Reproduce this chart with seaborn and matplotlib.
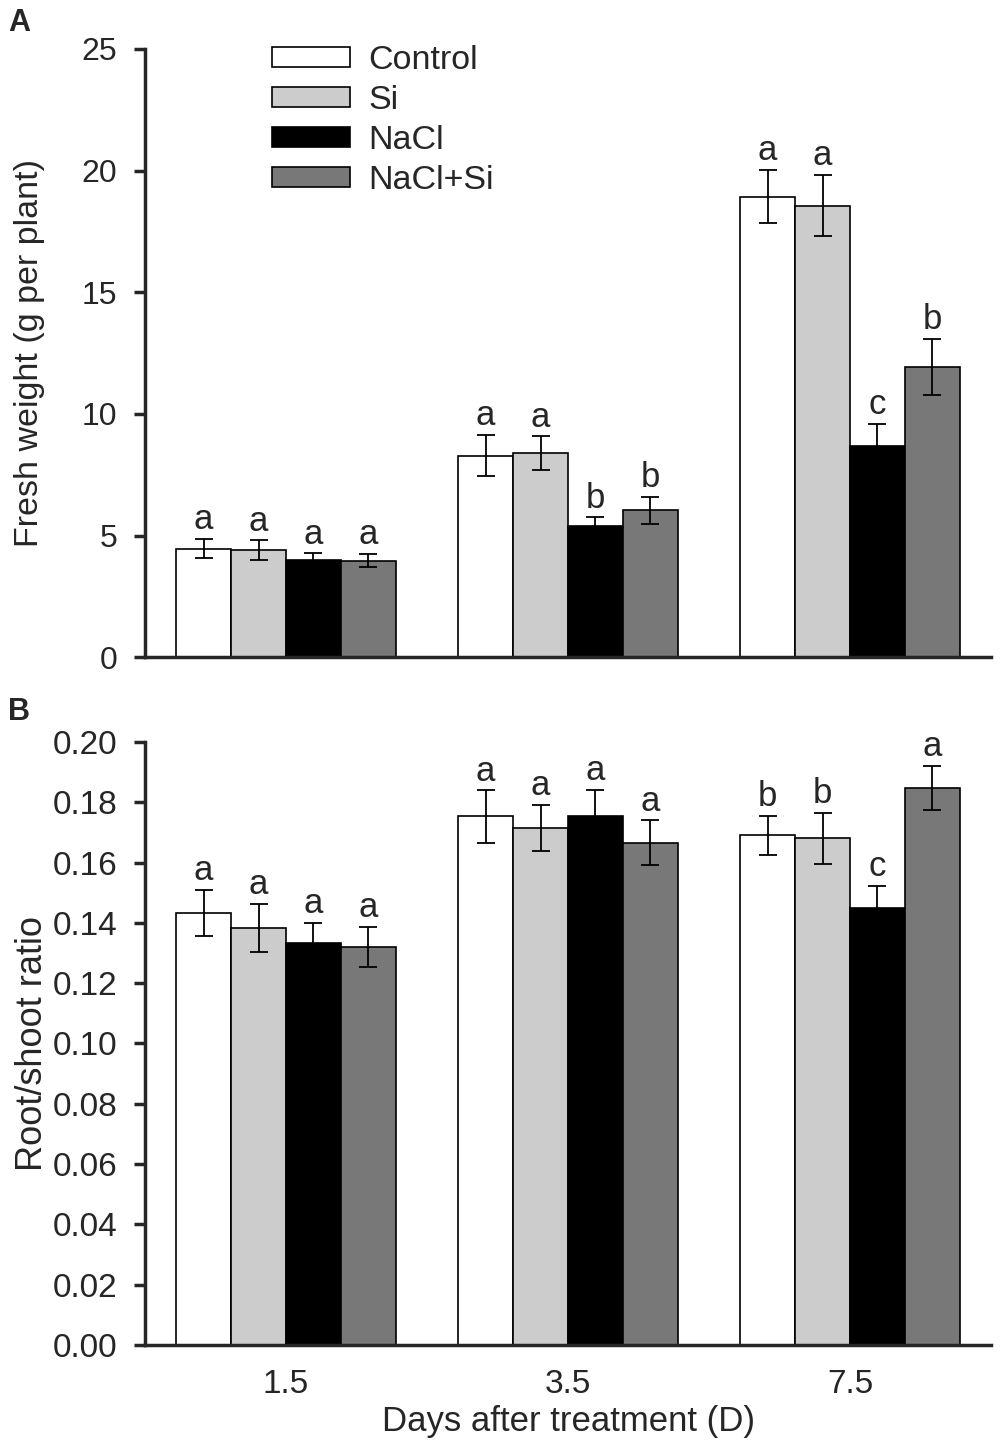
import numpy as np
import pandas as pd
import matplotlib
matplotlib.use("Agg")
import matplotlib.pyplot as plt
import seaborn as sns

sns.set_style("ticks")
plt.rcParams['font.family'] = ['Liberation Sans', 'DejaVu Sans']

# categories
days = ['1.5', '3.5', '7.5']
treatments = ['Control', 'Si', 'NaCl', 'NaCl+Si']
colors = ['#ffffff', '#cccccc', '#000000', '#787878']

# panel A - fresh weight (g per plant)
fw_control = [4.46, 8.29, 18.93]
fw_si = [4.41, 8.38, 18.56]
fw_nacl = [4.00, 5.41, 8.70]
fw_nacl_si = [3.97, 6.04, 11.93]
fw_err_control = [0.40, 0.86, 1.10]
fw_err_si = [0.40, 0.70, 1.26]
fw_err_nacl = [0.27, 0.34, 0.89]
fw_err_nacl_si = [0.28, 0.55, 1.16]
fw_let_control = ['a', 'a', 'a']
fw_let_si = ['a', 'a', 'a']
fw_let_nacl = ['a', 'b', 'c']
fw_let_nacl_si = ['a', 'b', 'b']

# panel B - root/shoot ratio
rs_control = [0.1433, 0.1753, 0.1690]
rs_si = [0.1383, 0.1715, 0.1681]
rs_nacl = [0.1335, 0.1753, 0.1451]
rs_nacl_si = [0.1321, 0.1666, 0.1848]
rs_err_control = [0.0077, 0.0087, 0.0066]
rs_err_si = [0.0080, 0.0077, 0.0084]
rs_err_nacl = [0.0066, 0.0088, 0.0072]
rs_err_nacl_si = [0.0067, 0.0074, 0.0072]
rs_let_control = ['a', 'a', 'b']
rs_let_si = ['a', 'a', 'b']
rs_let_nacl = ['a', 'a', 'c']
rs_let_nacl_si = ['a', 'a', 'a']


def make_df(means, errs, lets):
    rows = []
    for t, m, e, l in zip(treatments, means, errs, lets):
        for d, mv, ev, lv in zip(days, m, e, l):
            rows.append({'day': d, 'treatment': t, 'mean': mv, 'err': ev, 'letter': lv})
    return pd.DataFrame(rows)


fw = make_df([fw_control, fw_si, fw_nacl, fw_nacl_si],
             [fw_err_control, fw_err_si, fw_err_nacl, fw_err_nacl_si],
             [fw_let_control, fw_let_si, fw_let_nacl, fw_let_nacl_si])
rs = make_df([rs_control, rs_si, rs_nacl, rs_nacl_si],
             [rs_err_control, rs_err_si, rs_err_nacl, rs_err_nacl_si],
             [rs_let_control, rs_let_si, rs_let_nacl, rs_let_nacl_si])


def draw(ax, df, tick_size):
    sns.barplot(data=df, x='day', y='mean', hue='treatment', order=days,
                hue_order=treatments, palette=colors, saturation=1,
                edgecolor='black', linewidth=1.2, width=0.78,
                errorbar=None, ax=ax)
    for cont, t in zip(ax.containers, treatments):
        sub = df[df['treatment'] == t].set_index('day').loc[days]
        for bar, (_, r) in zip(cont, sub.iterrows()):
            x = bar.get_x() + bar.get_width() / 2
            ax.errorbar(x, r['mean'], yerr=r['err'], fmt='none', ecolor='black',
                        elinewidth=1.3, capsize=6.5, capthick=1.3, zorder=5)
            ax.annotate(r['letter'], (x, r['mean'] + r['err']), xytext=(0, 7),
                        textcoords='offset points', ha='center', va='baseline',
                        fontsize=25)
    ax.set_xlim(-0.5, 2.5)
    sns.despine(ax=ax)
    for s in ['left', 'bottom']:
        ax.spines[s].set_linewidth(2.5)
    ax.tick_params(axis='y', length=8, width=2.5, labelsize=tick_size,
                   direction='out', pad=12)
    ax.tick_params(axis='x', length=0, labelsize=24, pad=17)


fig = plt.figure(figsize=(10, 14.49), dpi=100)
axA = fig.add_axes([0.145, 0.5464, 0.846, 0.4198])
axB = fig.add_axes([0.145, 0.0718, 0.846, 0.4161])

draw(axA, fw, 23)
axA.set_ylim(0, 25)
axA.set_yticks(np.arange(0, 26, 5))
axA.tick_params(axis='x', labelbottom=False)
axA.set_xlabel('')
axA.set_ylabel('Fresh weight (g per plant)', fontsize=24.5, labelpad=26)
h, l = axA.get_legend_handles_labels()
axA.legend(h, l, loc='upper left', bbox_to_anchor=(0.134, 1.029), frameon=False,
           borderaxespad=0, fontsize=24.5, handlelength=2.3, handleheight=0.53,
           labelspacing=0.265, handletextpad=0.53)

draw(axB, rs, 24)
axB.set_ylim(0, 0.2)
axB.set_yticks(np.arange(0, 0.201, 0.02))
axB.set_yticklabels([f'{v:.2f}' for v in np.arange(0, 0.201, 0.02)])
axB.legend_.remove()
axB.set_xlabel('Days after treatment (D)', fontsize=25, labelpad=4)
axB.set_ylabel('Root/shoot ratio', fontsize=26, labelpad=2)

fig.text(0.008, 0.9945, 'A', fontsize=22, fontweight='bold', va='top')
fig.text(0.008, 0.519, 'B', fontsize=22, fontweight='bold', va='top')

fig.savefig('out.png', dpi=100)
